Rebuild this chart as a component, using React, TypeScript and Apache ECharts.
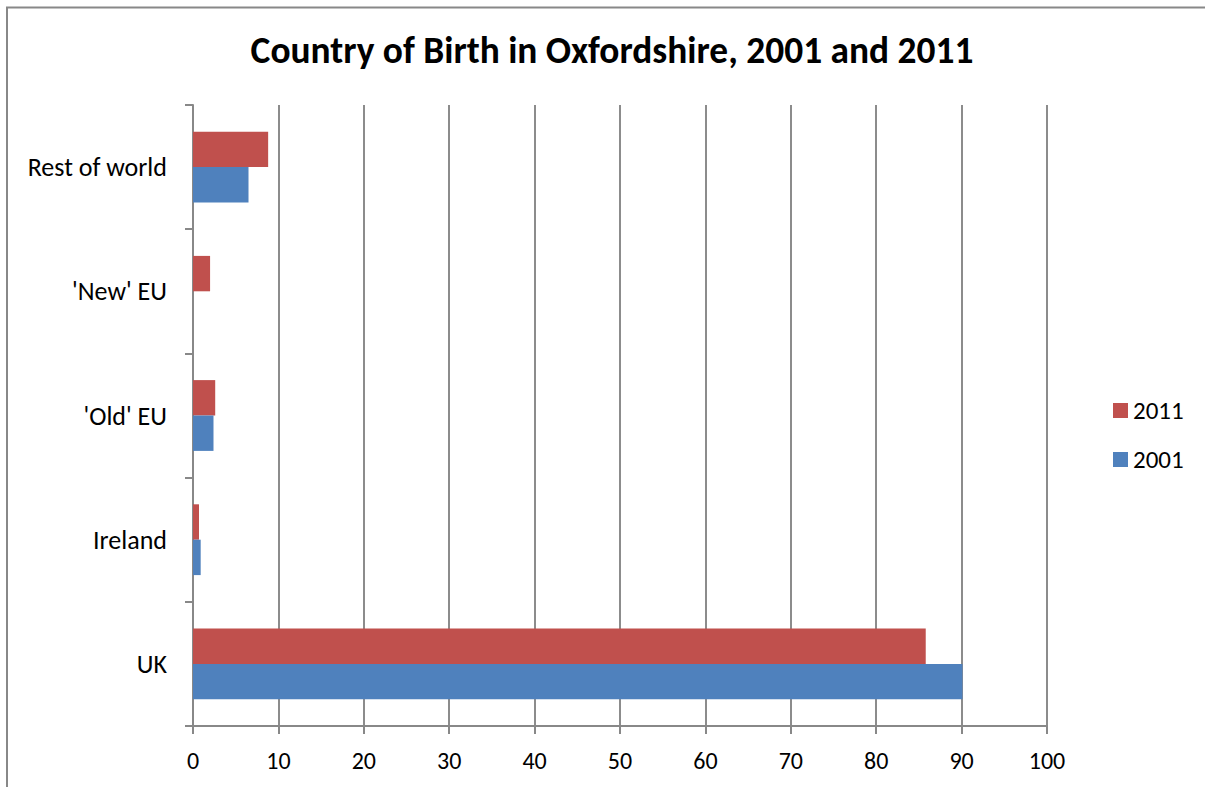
import React, { useEffect, useRef } from "react";
import * as echarts from "echarts";

const categories = ["UK", "Ireland", "'Old' EU", "'New' EU", "Rest of world"];
const values2001 = [90.1, 0.9, 2.4, 0, 6.5];
const values2011 = [85.8, 0.7, 2.6, 2.0, 8.8];
const xTicks = { min: 0, max: 100, interval: 10 };

const FONT = "Carlito, Lato, 'Open Sans', sans-serif";

export default function App() {
  const ref = useRef<HTMLDivElement>(null);
  useEffect(() => {
    if (!ref.current) return;
    const chart = echarts.init(ref.current, null, { renderer: "svg" });
    const legendBase = {
      orient: "vertical",
      left: 1108,
      itemWidth: 15,
      itemHeight: 15,
      itemGap: 0,
      icon: "rect",
      textStyle: { fontFamily: FONT, fontSize: 25, color: "#000" },
    };
    chart.setOption({
      animation: false,
      backgroundColor: "#ffffff",
      textStyle: { fontFamily: FONT },
      title: {
        text: "Country of Birth in Oxfordshire, 2001 and 2011",
        left: 607,
        textAlign: "center",
        top: 26,
        textStyle: { fontFamily: FONT, fontSize: 37.4, fontWeight: "bold", color: "#000" },
      },
      graphic: [
        {
          type: "rect",
          shape: { x: 7, y: 7.5, width: 1250, height: 850 },
          style: { fill: "none", stroke: "#888888", lineWidth: 2 },
          silent: true,
        },
      ],
      legend: [
        { ...legendBase, data: ["2011"], top: 393 },
        { ...legendBase, data: ["2001"], top: 442 },
      ],
      grid: { left: 193, right: 158, top: 105, bottom: 61, containLabel: false },
      xAxis: {
        type: "value",
        min: xTicks.min,
        max: xTicks.max,
        interval: xTicks.interval,
        axisLine: { show: true, lineStyle: { color: "#888888", width: 2 } },
        axisTick: { show: true, length: 8, lineStyle: { color: "#888888", width: 2 } },
        axisLabel: { fontFamily: FONT, fontSize: 24, color: "#000", margin: 22 },
        splitLine: { show: true, lineStyle: { color: "#8c8c8c", width: 2 } },
      },
      yAxis: {
        type: "category",
        data: categories,
        axisLine: { show: true, lineStyle: { color: "#888888", width: 2 } },
        axisTick: { show: true, length: 8, lineStyle: { color: "#888888", width: 2 } },
        axisLabel: { fontFamily: FONT, fontSize: 26, color: "#000", margin: 26 },
        splitLine: { show: false },
      },
      series: [
        {
          name: "2011",
          type: "bar",
          data: values2011,
          itemStyle: { color: "#C0504D" },
          barGap: "0%",
          barCategoryGap: "43%",
        },
        {
          name: "2001",
          type: "bar",
          data: values2001,
          itemStyle: { color: "#4F81BD" },
          barGap: "0%",
          barCategoryGap: "43%",
        },
      ],
    });
    return () => chart.dispose();
  }, []);
  return (
    <div
      ref={ref}
      style={{ position: "absolute", left: 0, top: 0, width: 1205, height: 787 }}
    />
  );
}
